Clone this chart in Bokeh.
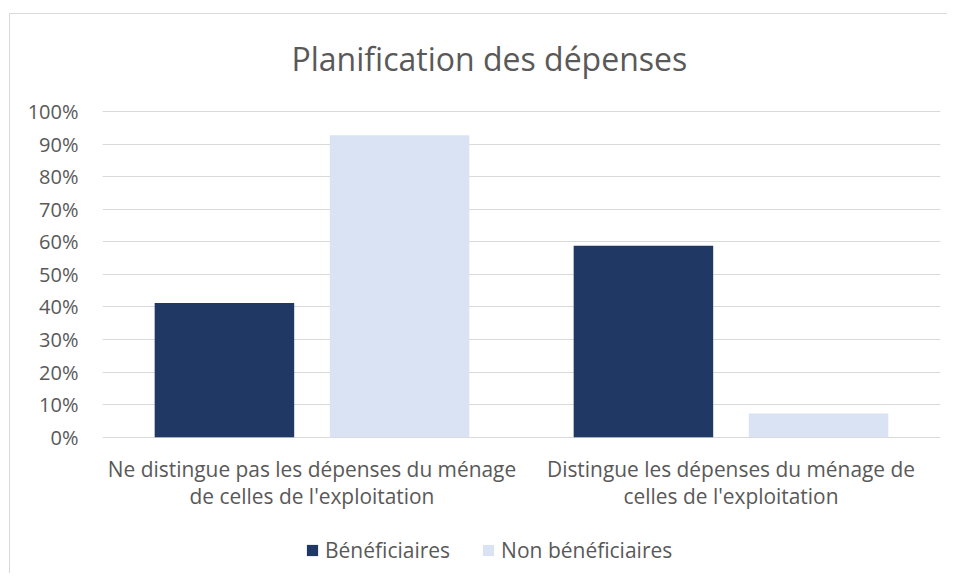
from bokeh.plotting import figure
from bokeh.models import (FactorRange, Range1d, FixedTicker, NumeralTickFormatter,
                          Legend, LegendItem, ColumnDataSource)
from bokeh.transform import dodge
from bokeh.embed import file_html
from bokeh.resources import INLINE

categories = ["Ne distingue pas les dépenses du ménage\nde celles de l'exploitation",
              "Distingue les dépenses du ménage de\ncelles de l'exploitation"]
beneficiaires = [0.412, 0.588]
non_beneficiaires = [0.927, 0.073]
series_names = ["Bénéficiaires", "Non bénéficiaires"]
y_ticks = [0, 0.1, 0.2, 0.3, 0.4, 0.5, 0.6, 0.7, 0.8, 0.9, 1.0]
Y_MIN = -0.4216   # room below the 0% line for the category labels and legend
Y_MAX = 1.0829    # small blank band above the 100% line, under the title

FONT = "Open Sans"
TXT = "#595959"

src = ColumnDataSource(dict(cat=categories, b=beneficiaires, nb=non_beneficiaires))

p = figure(x_range=FactorRange(factors=categories, range_padding=0, factor_padding=0),
           y_range=Range1d(Y_MIN, Y_MAX),
           width=938, height=560, output_backend="svg", toolbar_location=None,
           min_border_left=92, min_border_right=8, min_border_top=70, min_border_bottom=0)
p.styles = {"border-left": "1px solid #d9d9d9", "border-top": "1px solid #d9d9d9",
            "margin-top": "13px", "margin-left": "9px"}

r1 = p.vbar(x=dodge("cat", -0.209, range=p.x_range), top="b", width=0.333, source=src,
            fill_color="#203864", line_color=None)
r2 = p.vbar(x=dodge("cat", 0.209, range=p.x_range), top="nb", width=0.333, source=src,
            fill_color="#DAE3F3", line_color=None)

p.title.text = "Planification des dépenses"
p.title.align = "left"
p.title.offset = 189
p.title.text_font = FONT
p.title.text_font_size = "32px"
p.title.text_font_style = "normal"
p.title.text_color = TXT
p.title.standoff = 10

p.outline_line_color = None
p.xgrid.grid_line_color = None
p.ygrid.grid_line_color = "#d9d9d9"
p.ygrid.grid_line_width = 1
p.yaxis.ticker = FixedTicker(ticks=y_ticks)
p.yaxis.formatter = NumeralTickFormatter(format="0%")
for ax in (p.xaxis[0], p.yaxis[0]):
    ax.axis_line_color = None
    ax.major_tick_line_color = None
    ax.minor_tick_line_color = None
    ax.major_label_text_font = FONT
    ax.major_label_text_font_size = "20px"
    ax.major_label_text_color = TXT
p.xaxis.major_label_text_font_size = "20.9px"
p.xaxis.fixed_location = 0
p.yaxis.major_label_standoff = 18
p.xaxis.major_label_standoff = 12
p.xaxis.major_label_text_line_height = 0.96

legend = Legend(items=[LegendItem(label=series_names[0], renderers=[r1]),
                       LegendItem(label=series_names[1], renderers=[r2])],
                orientation="horizontal", location=(203, 10),
                background_fill_alpha=0, border_line_color=None,
                glyph_width=14, glyph_height=14, spacing=31, padding=0, margin=0,
                label_text_font=FONT, label_text_font_size="21px", label_text_color=TXT,
                label_standoff=6)
p.add_layout(legend)

open("out.html", "w").write(file_html(p, INLINE))
